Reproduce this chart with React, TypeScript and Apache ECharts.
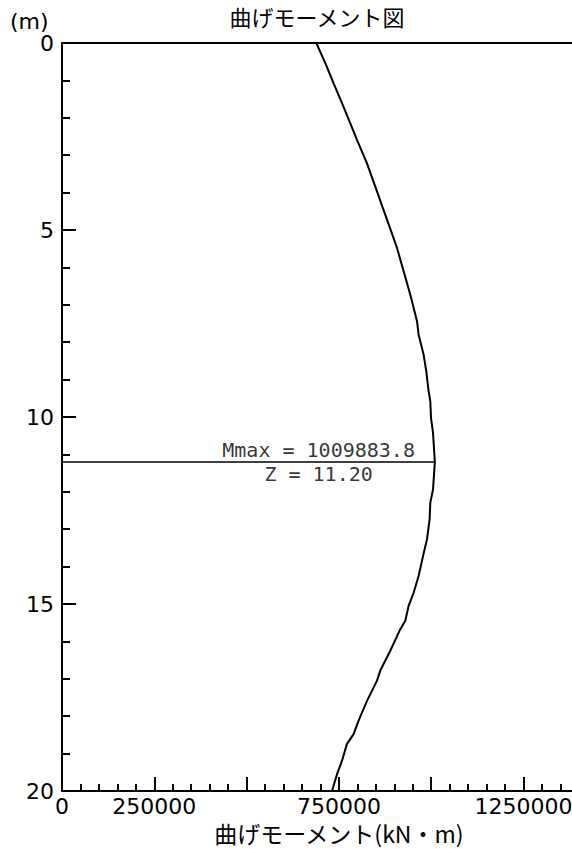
import React, { useEffect, useRef } from "react";
import * as echarts from "echarts";

// depth (m) and bending moment (kN·m)
const depths = [
  0, 0.54, 1.08, 1.61, 2.15, 2.59, 3.22, 3.84, 4.47, 4.97, 5.48, 6.1, 6.73, 7.44, 7.8, 8.33, 8.78,
  9.31, 9.58, 10.03, 10.42, 11.2, 11.93, 12.29, 12.74, 13.27, 13.72, 14.25, 14.7, 15.05, 15.45,
  15.71, 16.25, 16.78, 17.05, 17.59, 18.12, 18.48, 18.74, 19.19, 19.55, 20.0,
];
const moments = [
  688800, 713200, 735700, 758400, 780900, 799000, 826100, 848600, 871100, 889200, 907400, 925300,
  943400, 961600, 965900, 979400, 986700, 993000, 997600, 999500, 1004900, 1009883.8, 1005000,
  997600, 995700, 988600, 977800, 965900, 952400, 938800, 929900, 914400, 889200, 862100, 853200,
  826100, 803400, 789800, 771900, 758400, 744900, 731300,
];

const mMax = 1009883.8;
const zAtMax = 11.2;

const xShownLabels = [0, 250000, 750000, 1250000];
const xMin = 0;
const xMax = 1500000;
const xInterval = 250000;
const yMin = 0;
const yMax = 20;
const yInterval = 5;

const titleText = "曲げモーメント図";
const xAxisName = "曲げモーメント(kN・m)";
const yUnit = "(m)";

export default function App() {
  const ref = useRef<HTMLDivElement>(null);
  useEffect(() => {
    if (!ref.current) return;
    const chart = echarts.init(ref.current, undefined, { renderer: "svg" });
    const curve = depths.map((d, i) => [moments[i], d]);
    chart.setOption({
      animation: false,
      backgroundColor: "#ffffff",
      textStyle: { fontFamily: "'DejaVu Sans'", color: "#000" },
      grid: {
        left: 62,
        top: 43,
        width: 553.8,
        height: 748,
        containLabel: false,
        outerBoundsMode: "none",
      },
      graphic: [
        {
          type: "text",
          style: {
            text: titleText,
            x: 317,
            y: 5,
            fontSize: 22,
            lineHeight: 22,
            fontFamily: "'Noto Sans CJK JP'",
            textAlign: "center",
            textVerticalAlign: "top",
            fill: "#000",
          },
        },
        {
          type: "text",
          style: {
            text: yUnit,
            x: 10,
            y: 10,
            fontSize: 22,
            fontFamily: "'DejaVu Sans'",
            textAlign: "left",
            textVerticalAlign: "top",
            fill: "#000",
          },
        },
      ],
      xAxis: [
        {
          type: "value",
          position: "bottom",
          min: xMin,
          max: xMax,
          interval: xInterval,
          name: xAxisName,
          nameLocation: "middle",
          nameGap: 30,
          nameTextStyle: {
            fontSize: 23,
            lineHeight: 23,
            fontFamily: "'Noto Sans CJK JP'",
            color: "#000",
          },
          axisLine: { show: true, onZero: false, lineStyle: { color: "#000", width: 2 } },
          axisTick: { show: true, inside: true, length: 14, lineStyle: { color: "#000", width: 2 } },
          minorTick: { show: true, splitNumber: 5, length: 7, lineStyle: { color: "#000", width: 2 } },
          splitLine: { show: false },
          minorSplitLine: { show: false },
          axisLabel: {
            show: true,
            margin: 4,
            fontSize: 22,
            color: "#000",
            fontFamily: "'DejaVu Sans'",
            showMaxLabel: false,
            formatter: (v: number) => (xShownLabels.indexOf(v) >= 0 ? String(v) : ""),
          },
        },
        {
          type: "value",
          position: "top",
          min: xMin,
          max: xMax,
          interval: xInterval,
          axisLine: { show: true, onZero: false, lineStyle: { color: "#000", width: 2 } },
          axisTick: { show: false },
          axisLabel: { show: false },
          splitLine: { show: false },
        },
      ],
      yAxis: {
        type: "value",
        inverse: true,
        min: yMin,
        max: yMax,
        interval: yInterval,
        axisLine: { show: true, onZero: false, lineStyle: { color: "#000", width: 2 } },
        axisTick: { show: true, inside: true, length: 14, lineStyle: { color: "#000", width: 2 } },
        minorTick: { show: true, splitNumber: 5, length: 8, lineStyle: { color: "#000", width: 2 } },
        splitLine: { show: false },
        minorSplitLine: { show: false },
        axisLabel: { show: true, margin: 8, fontSize: 22, color: "#000", fontFamily: "'DejaVu Sans'" },
      },
      series: [
        {
          type: "line",
          data: curve,
          showSymbol: false,
          symbol: "none",
          lineStyle: { color: "#000", width: 2 },
          silent: true,
        },
        {
          type: "line",
          data: [
            [0, zAtMax],
            [mMax, zAtMax],
          ],
          symbol: "none",
          lineStyle: { color: "#000", width: 1.5 },
          silent: true,
        },
        {
          type: "scatter",
          data: [[(xMin + xMax) / 2 - 55000, zAtMax]],
          symbolSize: 0,
          silent: true,
          label: {
            show: true,
            position: "inside",
            formatter: () => `Mmax = ${mMax.toFixed(1)}\nZ = ${zAtMax.toFixed(2)}`,
            fontSize: 20,
            lineHeight: 24,
            fontFamily: "'DejaVu Sans Mono'",
            color: "#000",
            align: "center",
          },
        },
      ],
    });
    return () => chart.dispose();
  }, []);
  return (
    <div
      ref={ref}
      style={{ position: "absolute", left: 0, top: 0, width: 572, height: 849, background: "#fff" }}
    />
  );
}
